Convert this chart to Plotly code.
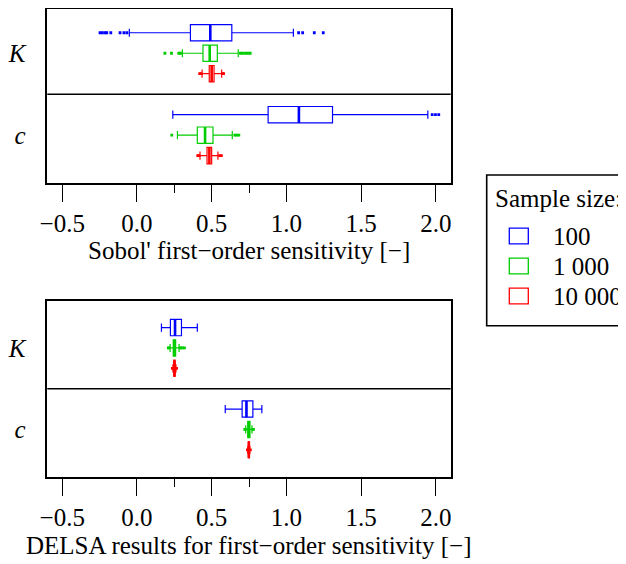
import plotly.graph_objects as go

# ---------------- data ----------------
params = ["K", "c"]
sample_sizes = ["100", "1 000", "10 000"]
colors = ["#0000FF", "#00CD00", "#FF0000"]
x_tickvals = [-0.5, 0.0, 0.5, 1.0, 1.5, 2.0]
x_ticktext = ["\u22120.5", "0.0", "0.5", "1.0", "1.5", "2.0"]
x_minor_ticks = [0.25, 0.75]
title_sobol = "Sobol' first\u2212order sensitivity [\u2212]"
title_delsa = "DELSA results for first\u2212order sensitivity [\u2212]"
legend_title = "Sample size:"

# Sobol' panel: rows = sample sizes (100, 1 000, 10 000); columns = params (K, c)
sobol_lower = [[-0.051, 0.240], [0.304, 0.271], [0.436, 0.422]]
sobol_q1 = [[0.358, 0.878], [0.442, 0.404], [0.484, 0.469]]
sobol_median = [[0.491, 1.084], [0.487, 0.456], [0.500, 0.485]]
sobol_q3 = [[0.635, 1.309], [0.538, 0.509], [0.516, 0.500]]
sobol_upper = [[1.047, 1.947], [0.678, 0.638], [0.567, 0.542]]
sobol_outliers = [
    [[-0.247, -0.231, -0.213, -0.202, -0.175, -0.113, -0.087, -0.067, 1.082, 1.109, 1.187, 1.247],
     [1.976, 1.998, 2.020]],
    [[0.187, 0.231, 0.280, 0.291, 0.693, 0.709, 0.727, 0.742, 0.758],
     [0.233, 0.655, 0.669, 0.682]],
    [[0.420, 0.429, 0.573, 0.580],
     [0.407, 0.415, 0.553, 0.565]],
]

# DELSA panel
delsa_lower = [[0.164, 0.591], [0.222, 0.728], [0.241, 0.742]]
delsa_q1 = [[0.224, 0.704], [0.243, 0.742], [0.247, 0.746]]
delsa_median = [[0.255, 0.733], [0.251, 0.749], [0.251, 0.749]]
delsa_q3 = [[0.298, 0.776], [0.259, 0.756], [0.255, 0.752]]
delsa_upper = [[0.404, 0.836], [0.282, 0.770], [0.261, 0.756]]
delsa_outliers = [
    [[], []],
    [[0.210, 0.215, 0.288, 0.295, 0.305, 0.318], [0.722, 0.725, 0.775, 0.780]],
    [[0.237, 0.265], [0.739, 0.759]],
]

# ---------------- figure ----------------
# the page body has an 8 px margin, so the figure is drawn 8 px smaller and
# all reference pixel positions are shifted by that offset
WIN_W, WIN_H = 626, 564
OFF = 8
W, H = WIN_W - OFF, WIN_H - OFF
fig = go.Figure()

BOX_W = 0.2
STEP = 0.25


def add_panel(xa, ya, lower, q1, med, q3, upper, outliers):
    for s, name in enumerate(sample_sizes):
        col = colors[s]
        off = (s - 1) * STEP
        pos = [i + off for i in range(len(params))]
        fig.add_trace(go.Box(
            orientation="h", y=pos,
            lowerfence=lower[s], q1=q1[s], median=med[s], q3=q3[s], upperfence=upper[s],
            width=BOX_W, whiskerwidth=0.5, boxpoints=False,
            line=dict(color=col, width=1.2), fillcolor="rgba(255,255,255,0)",
            xaxis=xa, yaxis=ya, showlegend=False, hoverinfo="skip", name=name))
        # thick median line
        mx, my = [], []
        for p, m in zip(pos, med[s]):
            mx += [m, m, None]
            my += [p - BOX_W / 2, p + BOX_W / 2, None]
        fig.add_trace(go.Scatter(x=mx, y=my, mode="lines", line=dict(color=col, width=2.6),
                                 xaxis=xa, yaxis=ya, showlegend=False, hoverinfo="skip"))
        # outliers
        ox, oy = [], []
        for p, vals in zip(pos, outliers[s]):
            ox += vals
            oy += [p] * len(vals)
        fig.add_trace(go.Scatter(x=ox, y=oy, mode="markers",
                                 marker=dict(symbol="square", size=2.8, color=col, line=dict(width=0)),
                                 xaxis=xa, yaxis=ya, showlegend=False, hoverinfo="skip"))


add_panel("x", "y", sobol_lower, sobol_q1, sobol_median, sobol_q3, sobol_upper, sobol_outliers)
add_panel("x2", "y2", delsa_lower, delsa_q1, delsa_median, delsa_q3, delsa_upper, delsa_outliers)

px = lambda v: (v - OFF) / W
py = lambda v: 1 - (v - OFF) / H

x_dom = [px(47.3), px(450.7)]

# panel frames in reference pixels
TOP_T, TOP_B = 5.7, 182.7
BOT_T, BOT_B = 300.7, 476.7
Y_LO, Y_HI = len(params) - 0.42, -0.58   # reversed value range (R-style 4 % padding)

# top frame cannot go above the figure origin: clip the top of the range so the boxes keep their place
top_t_eff = max(TOP_T, OFF + 1.0)
ppu = (TOP_B - TOP_T) / (Y_LO - Y_HI)
top_range = [Y_LO, Y_HI + (top_t_eff - TOP_T) / ppu]
top_dom = [py(TOP_B), min(1.0, py(top_t_eff))]
bot_dom = [py(BOT_B), py(BOT_T)]

FONT = "Liberation Serif"
FS = 25

xcommon = dict(range=[-0.6, 2.1], tickmode="array", tickvals=x_tickvals, ticktext=x_ticktext,
               ticks="outside", ticklen=17, tickwidth=1.4, tickcolor="black",
               showline=True, mirror=True, linecolor="black", linewidth=1.6,
               showgrid=False, zeroline=False, domain=x_dom, automargin=False,
               tickfont=dict(family=FONT, size=FS, color="black"),
               minor=dict(tickmode="array", tickvals=x_minor_ticks, ticks="outside", ticklen=8,
                          tickwidth=1.4, tickcolor="black", showgrid=False))
ycommon = dict(tickmode="array",
               tickvals=list(range(len(params))), ticktext=params,
               ticks="", ticklabelstandoff=15, automargin=False,
               showline=True, mirror=True, linecolor="black", linewidth=1.6,
               showgrid=False, zeroline=False,
               tickfont=dict(family=FONT, size=FS, color="black", style="italic"))

fig.update_layout(
    width=W, height=H, margin=dict(l=0, r=0, t=0, b=0, autoexpand=False),
    paper_bgcolor="white", plot_bgcolor="white",
    font=dict(family=FONT, size=FS, color="black"),
    showlegend=False,
    xaxis=dict(anchor="y", **xcommon),
    xaxis2=dict(anchor="y2", **xcommon),
    yaxis=dict(anchor="x", domain=top_dom, range=top_range, **ycommon),
    yaxis2=dict(anchor="x2", domain=bot_dom, range=[Y_LO, Y_HI], **ycommon),
)

shapes = []
annotations = []
# divider between parameter groups
for ya, xa in (("y", "x"), ("y2", "x2")):
    shapes.append(dict(type="line", xref=xa + " domain", yref=ya, x0=0, x1=1, y0=0.5, y1=0.5,
                       line=dict(color="black", width=1.6)))

# axis titles
annotations.append(dict(text=title_sobol, xref="x domain", yref="paper", x=0.5, y=py(251),
                        xanchor="center", yanchor="middle", showarrow=False,
                        font=dict(family=FONT, size=FS, color="black")))
annotations.append(dict(text=title_delsa, xref="x2 domain", yref="paper", x=0.5, y=py(545),
                        xanchor="center", yanchor="middle", showarrow=False,
                        font=dict(family=FONT, size=FS, color="black")))

# legend box
shapes.append(dict(type="rect", xref="paper", yref="paper", x0=px(486.7), x1=1.02,
                   y0=py(325.7), y1=py(175), line=dict(color="black", width=1.6)))
annotations.append(dict(text=legend_title, xref="paper", yref="paper", x=px(493), y=py(198.3),
                        xanchor="left", yanchor="middle", showarrow=False,
                        font=dict(family=FONT, size=FS, color="black")))
for s, name in enumerate(sample_sizes):
    cy = 236 + 30 * s
    shapes.append(dict(type="rect", xref="paper", yref="paper", x0=px(509.3), x1=px(528.3),
                       y0=py(cy + 7.8), y1=py(cy - 7.8), line=dict(color=colors[s], width=1.3)))
    annotations.append(dict(text=name, xref="paper", yref="paper", x=px(551), y=py(cy),
                            xanchor="left", yanchor="middle", showarrow=False,
                            font=dict(family=FONT, size=FS, color="black")))

fig.update_layout(shapes=shapes, annotations=annotations)
fig.write_html("out.html")
